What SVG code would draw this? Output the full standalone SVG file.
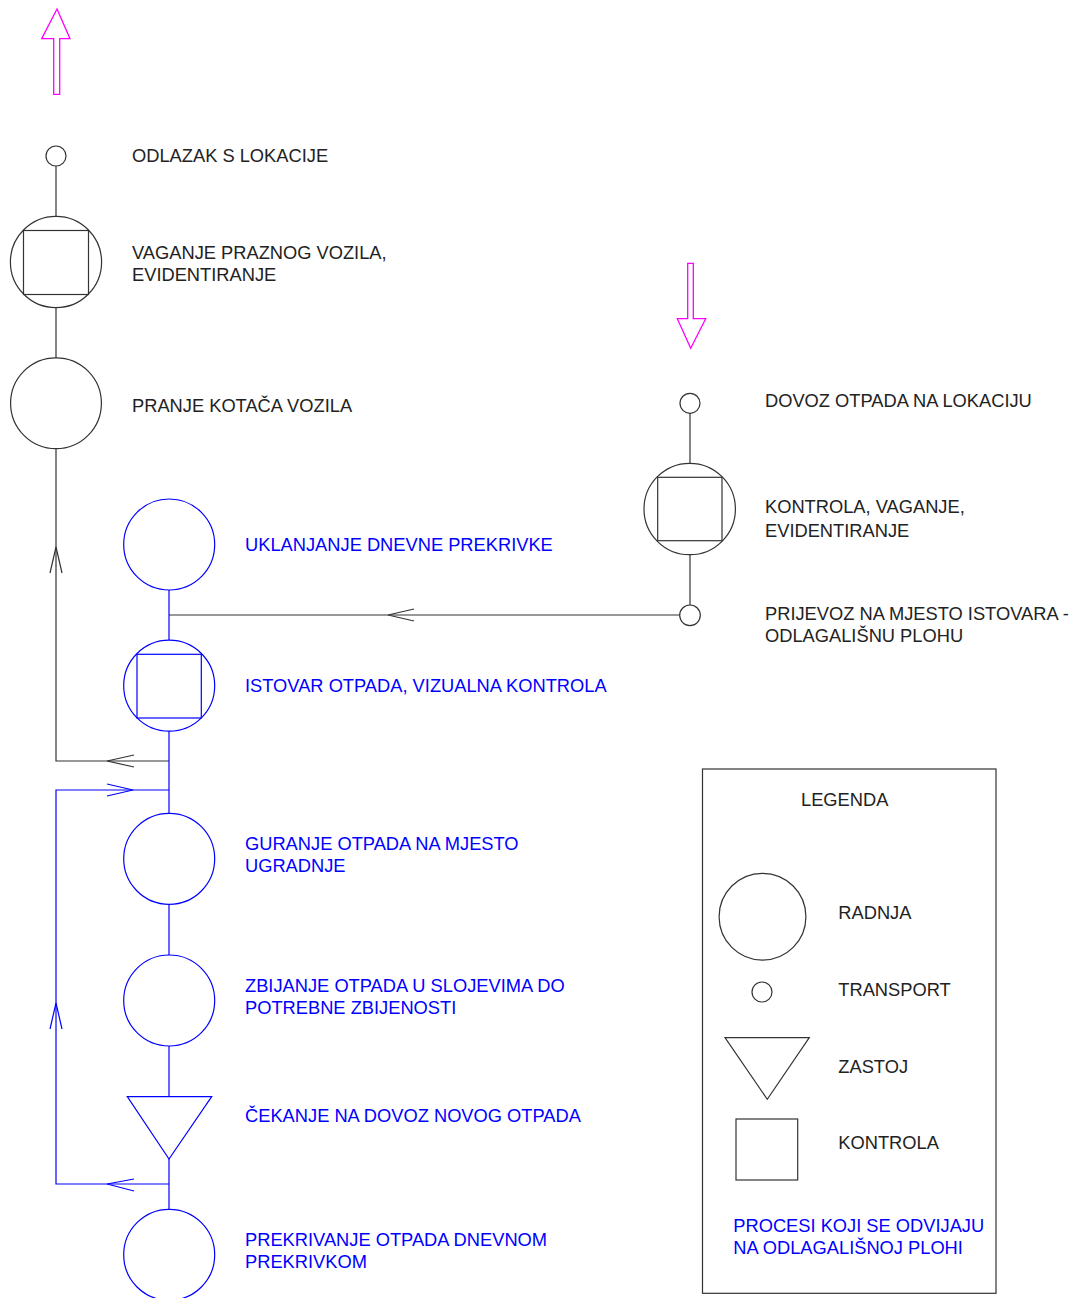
<svg xmlns="http://www.w3.org/2000/svg" width="1077" height="1298" viewBox="0 0 1077 1298">
<style>
.k{fill:none;stroke:#333;stroke-width:1.2}
.b{fill:none;stroke:#0000ff;stroke-width:1.2}
.m{fill:none;stroke:#ff00ff;stroke-width:1.3}
text{font-family:"Liberation Sans",Arial,sans-serif;font-size:18.3px}
.tk{fill:#222}
.tb{fill:#0000ff}
</style>
<rect width="1077" height="1298" fill="#fff"/>
<g id="connectors">
<line class="k" x1="56" y1="166" x2="56" y2="216"/>
<line class="k" x1="56" y1="308" x2="56" y2="358"/>
<polyline class="k" points="56,449 56,761 169,761"/>
<polyline class="k" points="50,573 56,547 62,573"/>
<polyline class="k" points="134,755 107,761 134,767"/>
<line class="k" x1="690" y1="413" x2="690" y2="463"/>
<line class="k" x1="690" y1="555" x2="690" y2="605"/>
<line class="k" x1="680" y1="615" x2="169" y2="615"/>
<polyline class="k" points="414,609 388,615 414,621"/>
<line class="b" x1="169" y1="590" x2="169" y2="640"/>
<line class="b" x1="169" y1="731" x2="169" y2="813"/>
<polyline class="b" points="169,790 56,790 56,1184 169,1184"/>
<polyline class="b" points="107,784 133,790 107,796"/>
<polyline class="b" points="50,1029 56,1003 62,1029"/>
<polyline class="b" points="134,1179 107,1184 134,1191"/>
<line class="b" x1="169" y1="904" x2="169" y2="955"/>
<line class="b" x1="169" y1="1046" x2="169" y2="1097"/>
<line class="b" x1="169" y1="1159" x2="169" y2="1209"/>
</g>
<g id="arrow-out"><polygon class="m" points="57,9 70,38.7 59.7,38.7 59.7,94.3 53.7,94.3 53.7,38.7 41.7,38.7"/></g>
<g id="arrow-in"><polygon class="m" points="690.7,348.3 705.7,318.7 693.3,318.7 693.3,263.3 687.7,263.3 687.7,318.7 677.3,318.7"/></g>
<g id="odlazak"><circle class="k" cx="56" cy="156" r="10"/><text class="tk" x="132" y="161.5">ODLAZAK S LOKACIJE</text></g>
<g id="vaganje-praznog"><circle class="k" cx="56" cy="262" r="45.6"/><rect class="k" x="23.5" y="230.5" width="65" height="64"/><text class="tk" x="132" y="259">VAGANJE PRAZNOG VOZILA,</text><text class="tk" x="132" y="280.7">EVIDENTIRANJE</text></g>
<g id="pranje"><circle class="k" cx="56" cy="403.3" r="45.4"/><text class="tk" x="132" y="411.7">PRANJE KOTAČA VOZILA</text></g>
<g id="dovoz"><circle class="k" cx="690" cy="403.3" r="10"/><text class="tk" x="765" y="406.7">DOVOZ OTPADA NA LOKACIJU</text></g>
<g id="kontrola-vaganje"><circle class="k" cx="689.7" cy="509" r="45.7"/><rect class="k" x="657.7" y="477.3" width="64.3" height="63.4"/><text class="tk" x="765" y="513.3">KONTROLA, VAGANJE,</text><text class="tk" x="765" y="536.7">EVIDENTIRANJE</text></g>
<g id="prijevoz"><circle class="k" cx="690" cy="615.3" r="10.3"/><text class="tk" x="765" y="620">PRIJEVOZ NA MJESTO ISTOVARA -</text><text class="tk" x="765" y="642">ODLAGALIŠNU PLOHU</text></g>
<g id="uklanjanje"><circle class="b" cx="169.2" cy="544.5" r="45.5"/><text class="tb" x="245" y="550.7">UKLANJANJE DNEVNE PREKRIVKE</text></g>
<g id="istovar"><circle class="b" cx="169.2" cy="685.7" r="45.5"/><rect class="b" x="137" y="654.3" width="64.3" height="63.7"/><text class="tb" x="245" y="691.7">ISTOVAR OTPADA, VIZUALNA KONTROLA</text></g>
<g id="guranje"><circle class="b" cx="169.2" cy="858.8" r="45.5"/><text class="tb" x="245" y="849.5">GURANJE OTPADA NA MJESTO</text><text class="tb" x="245" y="871.5">UGRADNJE</text></g>
<g id="zbijanje"><circle class="b" cx="169.2" cy="1000.5" r="45.5"/><text class="tb" x="245" y="991.5">ZBIJANJE OTPADA U SLOJEVIMA DO</text><text class="tb" x="245" y="1013.5">POTREBNE ZBIJENOSTI</text></g>
<g id="cekanje"><polygon class="b" points="127.3,1096.7 211.7,1096.7 169,1159"/><text class="tb" x="245" y="1121.5">ČEKANJE NA DOVOZ NOVOG OTPADA</text></g>
<g id="prekrivanje"><circle class="b" cx="169.2" cy="1254.8" r="45.5"/><text class="tb" x="245" y="1245.5">PREKRIVANJE OTPADA DNEVNOM</text><text class="tb" x="245" y="1267.5">PREKRIVKOM</text></g>
<g id="legend">
<rect class="k" x="702.5" y="769" width="293.5" height="524.3"/>
<text class="tk" x="801" y="805.7">LEGENDA</text>
<circle class="k" cx="762.5" cy="916.7" r="43.4"/>
<text class="tk" x="838.3" y="919.3">RADNJA</text>
<circle class="k" cx="762" cy="992" r="10"/>
<text class="tk" x="838.3" y="995.5">TRANSPORT</text>
<polygon class="k" points="725,1037.7 809.3,1037.7 767.3,1099.3"/>
<text class="tk" x="838.3" y="1072.7">ZASTOJ</text>
<rect class="k" x="736" y="1119" width="61.7" height="61"/>
<text class="tk" x="838.3" y="1149.3">KONTROLA</text>
<text class="tb" x="733.3" y="1231.7">PROCESI KOJI SE ODVIJAJU</text>
<text class="tb" x="733.3" y="1254">NA ODLAGALIŠNOJ PLOHI</text>
</g>
</svg>
